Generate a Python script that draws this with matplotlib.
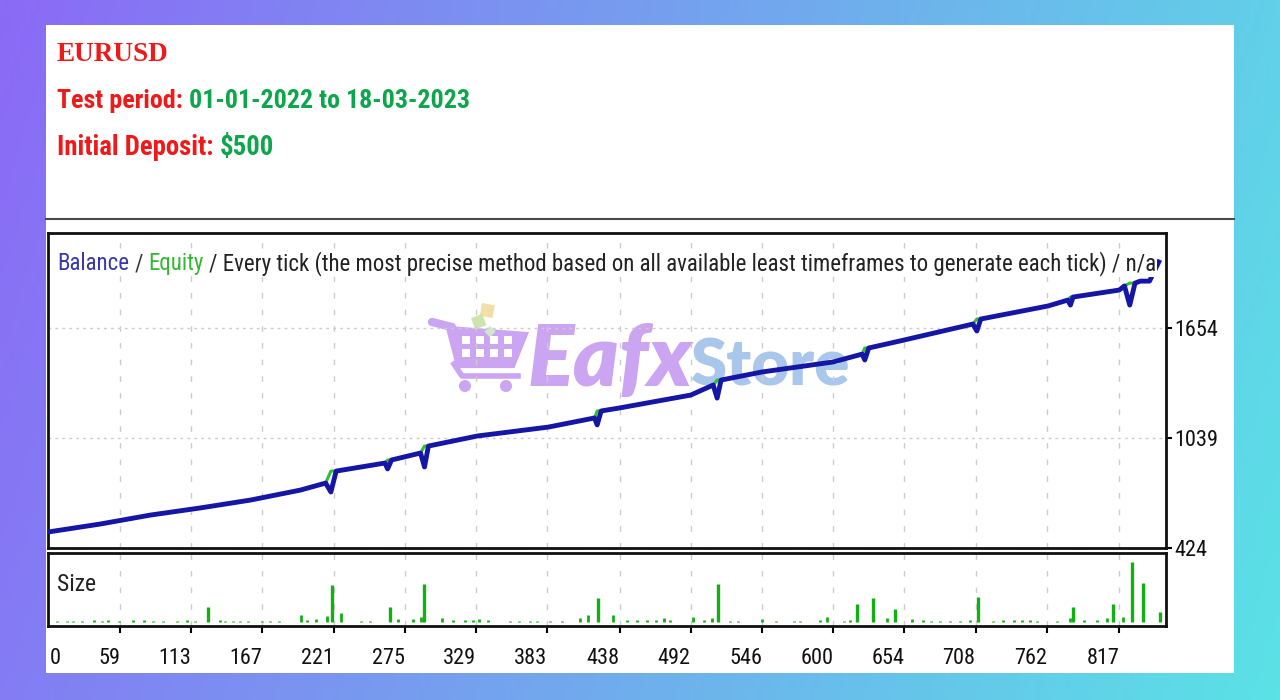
import numpy as np
import matplotlib.pyplot as plt
from matplotlib.patches import Rectangle, Circle, Polygon
from matplotlib.transforms import blended_transform_factory

# ---------------------- DATA ----------------------
trade_no = [4, 44, 82, 120, 158, 196, 215, 219, 223, 260, 262, 265, 287, 290, 293,
            330, 384, 419, 421, 424, 438, 492, 509, 512, 515, 546, 600, 622, 624, 627,
            654, 706, 709, 712, 763, 778, 780, 782, 817, 821, 825, 829, 833, 840, 847]
balance = [513, 558, 608, 648, 692, 748, 787, 737, 854, 899, 866, 916, 955, 877, 994,
           1050, 1100, 1151, 1112, 1190, 1207, 1279, 1335, 1262, 1363, 1408, 1464, 1508, 1475, 1542,
           1587, 1676, 1637, 1704, 1777, 1810, 1782, 1827, 1866, 1889, 1782, 1905, 1916, 1916, 2023]
equity = [513, 558, 608, 648, 692, 748, 787, 854, 854, 899, 916, 916, 955, 994, 994,
          1050, 1100, 1151, 1190, 1190, 1207, 1279, 1335, 1363, 1363, 1408, 1464, 1508, 1542, 1542,
          1587, 1676, 1704, 1704, 1777, 1810, 1827, 1827, 1866, 1889, 1905, 1905, 1916, 1916, 2023]

# bigger positions (lots)
big_trades = [126, 220, 264, 290, 422, 513, 618, 630, 647, 710, 782, 812, 827, 835, 848]
big_lots = [0.15, 0.37, 0.15, 0.38, 0.24, 0.38, 0.18, 0.24, 0.13, 0.25, 0.15, 0.18, 0.60, 0.39, 0.10]
# small positions along the baseline
small_trades = [11, 19, 23, 30, 39, 45, 50, 58, 69, 77, 84, 92, 102, 110, 116, 135, 139, 145, 150,
                156, 167, 173, 180, 196, 201, 208, 216, 227, 242, 249, 270, 281, 287, 303, 312, 321,
                327, 331, 338, 355, 362, 370, 375, 385, 394, 408, 414, 433, 444, 451, 459, 466, 472,
                476, 494, 502, 508, 522, 528, 546, 557, 570, 575, 590, 595, 608, 613, 641, 660, 668,
                674, 681, 689, 696, 704, 721, 729, 737, 743, 749, 755, 770, 780, 790, 800, 808, 820]
small_lots = [0.01, 0.01, 0.01, 0.01, 0.02, 0.01, 0.02, 0.01, 0.02, 0.02, 0.01, 0.01, 0.01, 0.02, 0.01,
              0.02, 0.01, 0.01, 0.01, 0.01, 0.01, 0.01, 0.01, 0.07, 0.02, 0.03, 0.06, 0.09, 0.01, 0.01,
              0.03, 0.03, 0.05, 0.04, 0.02, 0.02, 0.02, 0.03, 0.02, 0.01, 0.01, 0.01, 0.01, 0.01, 0.01,
              0.04, 0.07, 0.07, 0.02, 0.02, 0.02, 0.02, 0.04, 0.02, 0.05, 0.02, 0.04, 0.01, 0.01, 0.03,
              0.01, 0.01, 0.01, 0.02, 0.05, 0.01, 0.02, 0.04, 0.03, 0.02, 0.01, 0.01, 0.01, 0.01, 0.02,
              0.01, 0.02, 0.02, 0.02, 0.02, 0.01, 0.01, 0.04, 0.02, 0.02, 0.04, 0.05]

x_ticks = [59, 113, 167, 221, 275, 329, 383, 438, 492, 546, 600, 654, 708, 762, 817]
y_ticks = [424, 1039, 1654]

# ---------------------- STYLE ----------------------
W, H = 1280, 700
NARROW = dict(family=['Roboto Condensed', 'Liberation Sans Narrow', 'DejaVu Sans'],
              fontstretch='condensed')
RED = '#ee1a1a'
GREEN_TXT = '#0ea64c'
BLUE = '#1616a6'
EQ_GREEN = '#2fbf2f'
SIZE_GREEN = '#12b012'
GRID = '#cccccc'

fig = plt.figure(figsize=(12.8, 7), dpi=100)
renderer = fig.canvas.get_renderer()

# background gradient + white card
bg = fig.add_axes([0, 0, 1, 1])
bg.set_xlim(0, W)
bg.set_ylim(H, 0)
bg.axis('off')
gx, gy = np.meshgrid(np.linspace(0, 1, 256), np.linspace(0, 1, 64))
t = np.clip(0.85 * gx + 0.15 * gy, 0, 1)[..., None]
c0 = np.array([0x8b, 0x6a, 0xf6]) / 255
c1 = np.array([0x5a, 0xe2, 0xe6]) / 255
bg.imshow(c0 + (c1 - c0) * t, extent=(0, W, H, 0), aspect='auto', zorder=0)
bg.add_patch(Rectangle((46, 25), 1188, 648, fc='white', ec='none', zorder=1))
bg.plot([46, 1234], [219, 219], color='#4a4a4a', lw=1.5, zorder=2)

# watermark (cart + EafxStore)
wm = '#cba4f2'
bg.plot([432, 452], [322, 327], color=wm, lw=6, solid_capstyle='round', zorder=2)
bg.add_patch(Polygon([(448, 328), (526, 334), (513, 366), (458, 366)], closed=True,
                     fc=wm, ec=wm, lw=3, zorder=2))
for cx in [466, 480, 494, 508]:
    for cy in [340, 353]:
        bg.add_patch(Rectangle((cx - 4, cy - 4), 8, 8, fc='white', ec='none', zorder=3))
bg.plot([454, 462, 518], [364, 376, 376], color=wm, lw=4, zorder=2)
bg.add_patch(Circle((465, 386), 6, fc=wm, zorder=2))
bg.add_patch(Circle((506, 386), 6, fc=wm, zorder=2))
bg.add_patch(Rectangle((482, 303), 13, 13, angle=10, fc='#f2dfa8', ec='none', zorder=2))
bg.add_patch(Rectangle((471, 318), 12, 12, angle=-20, fc='#cfe3b0', ec='none', zorder=2))
bg.add_patch(Rectangle((490, 326), 8, 8, angle=45, fc='#cfe8c8', ec='none', zorder=2))
bg.text(528, 386, 'Eafx', fontsize=62, fontweight='heavy', fontstyle='italic',
        family=['Lato', 'DejaVu Sans'], color=wm, zorder=2)
bg.text(690, 386, 'Store', fontsize=47, fontweight='heavy',
        family=['Lato', 'DejaVu Sans'], color='#a9c7ea', zorder=2)


def text_w(s, fs, **kw):
    tt = fig.text(0, 0, s + 'l', fontsize=fs, **kw)
    w1 = tt.get_window_extent(renderer).width
    tt.set_text('l')
    w2 = tt.get_window_extent(renderer).width
    tt.remove()
    return w1 - w2


def line_of_pieces(x0, y0, parts, width, **kw):
    full = ''.join(p for p, _ in parts)
    fs = 20 * width / text_w(full, 20, **kw)
    pos = 0
    out = []
    for s, c in parts:
        lead = len(s) - len(s.lstrip())
        x = x0 + text_w(full[:pos + lead], fs, **kw) if pos + lead > 0 else x0
        out.append(fig.text(x / W, 1 - y0 / H, s.strip(), fontsize=fs, color=c,
                            va='baseline', **kw))
        pos += len(s)
    return out


# ---------------------- HEADER ----------------------
line_of_pieces(57, 61, [('EURUSD', RED)], 112,
               family=['Liberation Serif', 'DejaVu Serif'], fontweight='heavy')
line_of_pieces(57, 108, [('Test period: ', RED), ('01-01-2022 to 18-03-2023', GREEN_TXT)], 412,
               fontweight='bold', **NARROW)
line_of_pieces(57, 155, [('Initial Deposit: ', RED), ('$500', GREEN_TXT)], 216,
               fontweight='bold', **NARROW)

# ---------------------- CHART ----------------------
ax = fig.add_axes([48 / W, 1 - 548 / H, (1166 - 48) / W, (548 - 233) / H])
sz = fig.add_axes([48 / W, 1 - 626 / H, (1166 - 48) / W, (626 - 553) / H])
xlim = (4.4, 852.5)

for a in (ax, sz):
    a.set_facecolor('none')
    a.set_xlim(*xlim)
    a.set_xticks(x_ticks)
    a.grid(axis='x', color=GRID, lw=1, linestyle=(0, (4, 8)))
    for sp in a.spines.values():
        sp.set_linewidth(2)
        sp.set_color('#111111')

ax.set_ylim(424, 2185)
ax.set_yticks(y_ticks)
ax.grid(axis='y', color=GRID, lw=1, linestyle=(0, (2, 3)))
ax.yaxis.tick_right()
tick_fs = 16
ax.tick_params(axis='y', direction='out', length=4, width=1.5, pad=2,
               labelsize=tick_fs, labelcolor='#111111')
for lbl in ax.get_yticklabels():
    lbl.set_family(NARROW['family'])
    lbl.set_fontstretch('condensed')
ax.tick_params(axis='x', length=0, labelbottom=False)

ax.plot(trade_no, equity, color=EQ_GREEN, lw=2.2, zorder=3)
ax.plot(trade_no, balance, color=BLUE, lw=3.5, zorder=4, solid_joinstyle='round')

label = line_of_pieces(57, 270, [('Balance', '#3838a8'), (' / ', '#333333'), ('Equity', '#34b834'),
                                 (' / Every tick (the most precise method based on all available least '
                                  'timeframes to generate each tick) / n/a', '#222222')],
                       1095, **NARROW)
for tx in label:
    tx.set_bbox(dict(fc='white', ec='none', pad=1))

# size panel
sz.set_ylim(-0.04, 0.69)
sz.set_yticks([])
sz.tick_params(axis='x', direction='out', length=5, width=1.5, labelbottom=False)
sz.vlines(small_trades, 0, small_lots, color=SIZE_GREEN, lw=2)
sz.vlines(big_trades, 0, big_lots, color=SIZE_GREEN, lw=2.4)
fig.text(57 / W, 1 - 591 / H, 'Size', fontsize=tick_fs + 1, color='#222222', va='baseline', **NARROW)

# x tick labels, right aligned on the ticks
tr = blended_transform_factory(sz.transData, fig.transFigure)
for v in x_ticks:
    sz.text(v, 1 - 664 / H, str(v), transform=tr, ha='right', va='baseline',
            fontsize=tick_fs, color='#111111', **NARROW)
fig.text(50 / W, 1 - 664 / H, '0', fontsize=tick_fs, color='#111111', va='baseline', **NARROW)

fig.savefig('out.png', dpi=100)
